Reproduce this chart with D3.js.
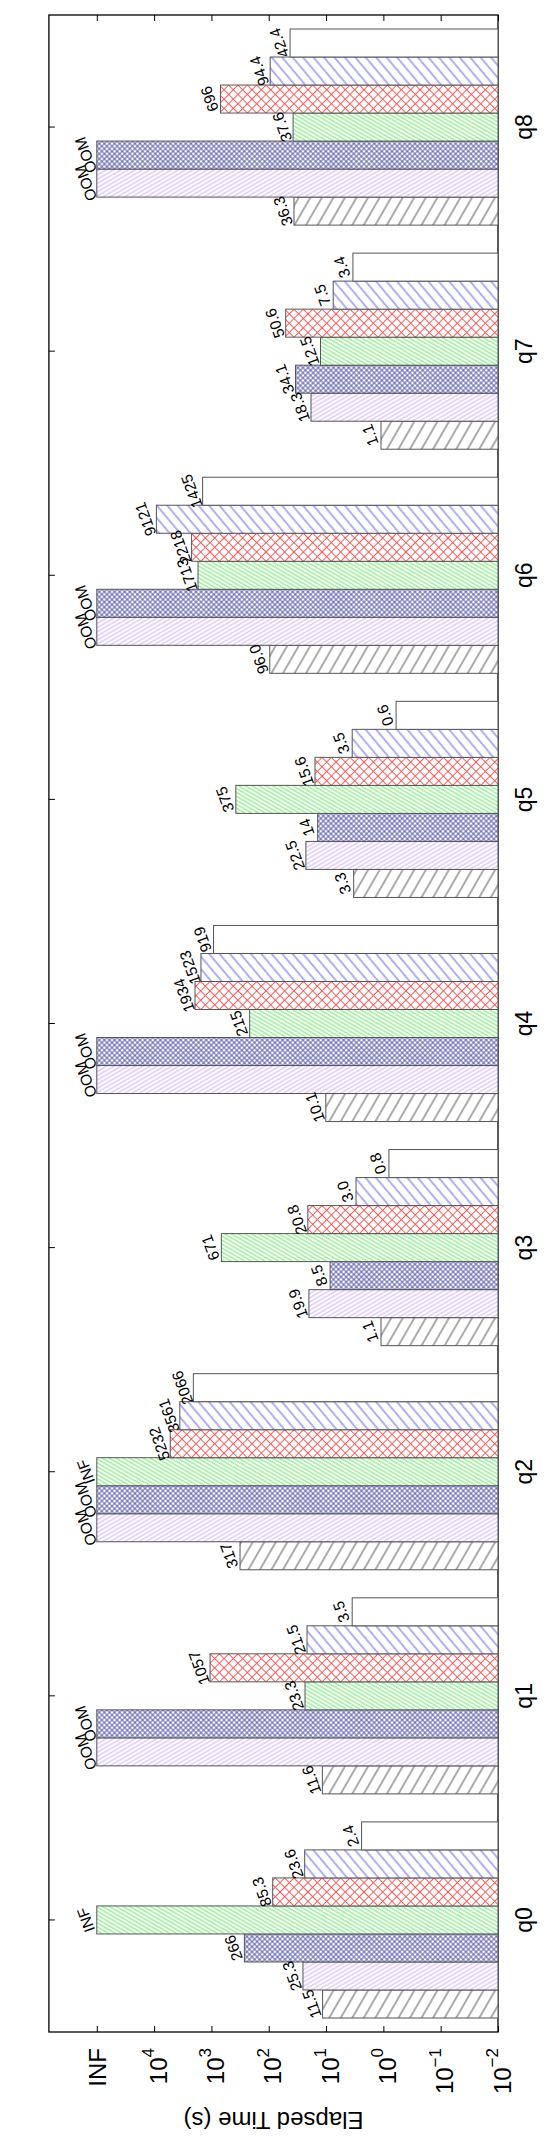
<!DOCTYPE html>
<html>
<head>
<meta charset="utf-8">
<script src="https://cdn.jsdelivr.net/npm/d3@7"></script>
<style>
body { margin: 0; background: #fff; }
text { font-family: "Liberation Sans", Arial, sans-serif; }
</style>
</head>
<body>
<svg id="chart"></svg>
<script>
"use strict";

// queries along the category axis
var categories = ["q0", "q1", "q2", "q3", "q4", "q5", "q6", "q7", "q8"];

// one array per system, labels exactly as printed ("OOM"/"INF" = did not finish)
var sysA = ["11.5", "11.6", "317", "1.1", "10.1", "3.3", "96.0", "1.1", "36.3"];
var sysB = ["25.3", "OOM", "OOM", "19.9", "OOM", "22.5", "OOM", "18.3", "OOM"];
var sysC = ["266", "OOM", "OOM", "8.5", "OOM", "14", "OOM", "34.1", "OOM"];
var sysD = ["INF", "23.3", "INF", "671", "215", "375", "1713", "12.5", "37.6"];
var sysE = ["85.3", "1057", "5232", "20.8", "1934", "15.6", "2218", "50.6", "696"];
var sysF = ["23.6", "21.5", "3561", "3.0", "1523", "3.5", "9121", "7.5", "94.4"];
var sysG = ["2.4", "3.5", "2066", "0.8", "919", "0.6", "1425", "3.4", "42.4"];
var systems = [sysA, sysB, sysC, sysD, sysE, sysF, sysG];

// value axis
var tickVals = [1e-2, 1e-1, 1, 1e1, 1e2, 1e3, 1e4, 1e5];
var tickExp = ["\u22122", "\u22121", "0", "1", "2", "3", "4", null];
var INF_VALUE = 1e5;

// fill pattern for every system (angles in the unrotated chart)
var hatches = [
	{id: "hA", color: "#444", angle: 30, gap: 10, sw: 0.9},
	{id: "hB", color: "#c39bff", angle: 60, gap: 3.6, sw: 0.8},
	{id: "hC", color: "#3c3ca0", angle: 45, gap: 3.6, sw: 0.8, cross: true},
	{id: "hD", color: "#3ee83e", angle: 120, gap: 3.4, sw: 0.8},
	{id: "hE", color: "#ff4d4d", angle: 45, gap: 6.6, sw: 0.9, cross: true},
	{id: "hF", color: "#4d4dff", angle: 140, gap: 8, sw: 0.9},
	{id: "hG", color: null, angle: 0, gap: 10, sw: 0}
];

var W = 548, H = 2137;
// the chart is built upright (H wide, W tall) and turned a quarter left
var frameL = 105, frameR = 2122, frameT = 48.9, frameB = 498;

var svg = d3.select("#chart").attr("width", W).attr("height", H);

var defs = svg.append("defs");
hatches.forEach(function(h){
	var p = defs.append("pattern")
		.attr("id", h.id)
		.attr("patternUnits", "userSpaceOnUse")
		.attr("width", h.gap)
		.attr("height", h.gap)
		.attr("patternTransform", "rotate(" + h.angle + ")");
	p.append("rect").attr("width", h.gap).attr("height", h.gap).attr("fill", "#fff");
	if (h.color) {
		p.append("line")
			.attr("x1", 0).attr("x2", h.gap)
			.attr("y1", h.gap/2).attr("y2", h.gap/2)
			.attr("stroke", h.color).attr("stroke-width", h.sw);
		if (h.cross) {
			p.append("line")
				.attr("y1", 0).attr("y2", h.gap)
				.attr("x1", h.gap/2).attr("x2", h.gap/2)
				.attr("stroke", h.color).attr("stroke-width", h.sw);
		}
	}
});

var g = svg.append("g").attr("transform", "translate(0," + H + ") rotate(-90)");

var x = d3.scaleBand()
	.domain(categories)
	.range([frameL, frameR])
	.paddingInner(0.125)
	.paddingOuter(0.0625);
var xs = d3.scaleBand()
	.domain(d3.range(systems.length))
	.range([0, x.bandwidth()]);
var y = d3.scaleLog()
	.domain([1e-2, 1e5])
	.range([frameB, 96.8]);

function num(s) { return isNaN(+s) ? INF_VALUE : +s; }

// frame
g.append("rect")
	.attr("x", frameL).attr("y", frameT)
	.attr("width", frameR - frameL).attr("height", frameB - frameT)
	.attr("fill", "none").attr("stroke", "#000").attr("stroke-width", 1.3);

// value axis (left) with inward ticks, mirrored on the right
var yAxis = g.append("g")
	.attr("transform", "translate(" + frameL + ",0)")
	.call(d3.axisLeft(y).tickValues(tickVals).tickSize(-6).tickFormat(""));
yAxis.select(".domain").remove();
yAxis.selectAll(".tick line").attr("stroke", "#000");

var yAxis2 = g.append("g")
	.attr("transform", "translate(" + frameR + ",0)")
	.call(d3.axisRight(y).tickValues(tickVals).tickSize(-6).tickFormat(""));
yAxis2.select(".domain").remove();
yAxis2.selectAll(".tick line").attr("stroke", "#000");

yAxis.selectAll(".tick").each(function(d, i){
	var t = d3.select(this).append("text")
		.attr("text-anchor", "end")
		.attr("fill", "#000")
		.attr("font-size", 24)
		.attr("x", -16);
	if (tickExp[i] === null) {
		t.attr("y", 8.5).text("INF");
	} else {
		t.attr("y", 12);
		t.append("tspan").text("10");
		t.append("tspan").attr("dy", -12.5).attr("font-size", 17).text(tickExp[i]);
	}
});

// category axis
var xAxisTop = g.append("g")
	.attr("transform", "translate(0," + frameT + ")")
	.call(d3.axisTop(x).tickSize(-6).tickFormat(""));
xAxisTop.select(".domain").remove();
xAxisTop.selectAll(".tick line").attr("stroke", "#000");

var xAxis = g.append("g")
	.attr("transform", "translate(0," + frameB + ")")
	.call(d3.axisBottom(x).tickSize(-6));
xAxis.select(".domain").remove();
xAxis.selectAll(".tick line").attr("stroke", "#000");
xAxis.selectAll(".tick text")
	.attr("y", 34).attr("dy", null)
	.attr("font-size", 23).attr("fill", "#000");

// bars
var groups = g.append("g").selectAll("g")
	.data(categories)
	.join("g")
	.attr("transform", function(c){ return "translate(" + x(c) + ",0)"; });

groups.each(function(c, ci){
	var cell = d3.select(this);
	var rows = systems.map(function(s, si){ return {si: si, label: s[ci], v: num(s[ci])}; });

	cell.selectAll("rect")
		.data(rows)
		.join("rect")
		.attr("x", function(d){ return xs(d.si); })
		.attr("width", xs.bandwidth())
		.attr("y", function(d){ return y(d.v); })
		.attr("height", function(d){ return frameB - y(d.v); })
		.attr("fill", function(d){ return "url(#" + hatches[d.si].id + ")"; })
		.attr("stroke", "#555")
		.attr("stroke-width", 1);

	cell.selectAll("text")
		.data(rows)
		.join("text")
		.attr("transform", function(d){
			return "translate(" + (xs(d.si) + xs.bandwidth()/2) + "," + (y(d.v) - 11) + ") rotate(-20)";
		})
		.attr("text-anchor", "middle")
		.attr("dominant-baseline", "central")
		.attr("font-size", 15.5)
		.attr("fill", "#000")
		.text(function(d){ return d.label; });
});

// axis title
g.append("text")
	.attr("transform", "translate(25," + ((frameT + frameB)/2) + ") rotate(-90)")
	.attr("text-anchor", "middle")
	.attr("font-size", 24)
	.attr("fill", "#000")
	.text("Elapsed Time (s)");
</script>
</body>
</html>
